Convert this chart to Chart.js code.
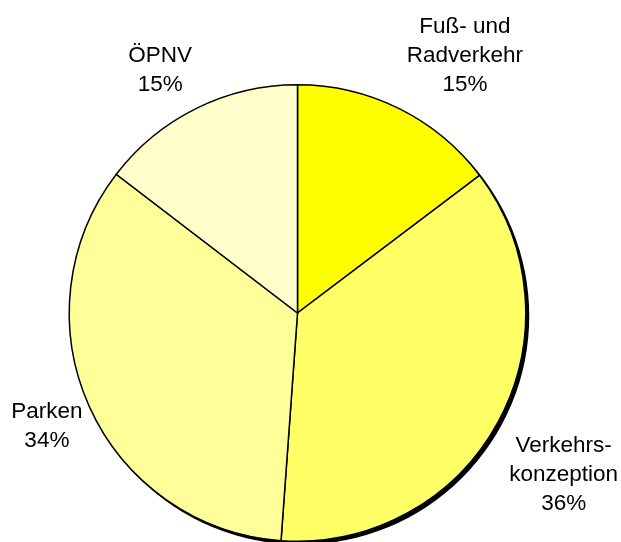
<!DOCTYPE html>
<html>
<head>
<meta charset="utf-8">
<script src="https://cdn.jsdelivr.net/npm/chart.js@4/dist/chart.umd.min.js"></script>
<style>
html,body{margin:0;padding:0;background:#fff;}
#c{display:block;}
</style>
</head>
<body>
<canvas id="c" width="621" height="542"></canvas>
<script>
const categories = [["Fuß- und", "Radverkehr"], ["Verkehrs-", "konzeption"], ["Parken"], ["ÖPNV"]];
const values = [14.7, 36.45, 34.25, 14.6];
const sliceColors = ["#FFFF00", "#FFFF66", "#FFFF99", "#FFFFCC"];
// label placement: radial distance factor and angle tweak (degrees)
const labelDist = [1.352, 1.361, 1.202, 1.228];
const labelAngleTweak = [6.4, 2.5, 0.2, -3.05];

const shadowPlugin = {
  id: 'pieShadow',
  beforeDatasetsDraw(chart) {
    const arc = chart.getDatasetMeta(0).data[0];
    if (!arc) return;
    const ctx = chart.ctx;
    ctx.save();
    ctx.beginPath();
    ctx.arc(arc.x + 3, arc.y + 3, arc.outerRadius + 0.5, 0, Math.PI * 2);
    ctx.fillStyle = '#000';
    ctx.fill();
    ctx.restore();
  }
};

const labelPlugin = {
  id: 'pieLabels',
  afterDatasetsDraw(chart) {
    const meta = chart.getDatasetMeta(0);
    const ctx = chart.ctx;
    const total = values.reduce((a, b) => a + b, 0);
    ctx.save();
    ctx.font = '22.5px "Liberation Sans", Arial, sans-serif';
    ctx.fillStyle = '#000';
    ctx.textAlign = 'center';
    ctx.textBaseline = 'middle';
    const lh = 29;
    meta.data.forEach((el, i) => {
      const mid = (el.startAngle + el.endAngle) / 2 + labelAngleTweak[i] * Math.PI / 180;
      const r = el.outerRadius * labelDist[i];
      const cx = el.x + Math.cos(mid) * r;
      const cy = el.y + Math.sin(mid) * r + 2;
      const lines = categories[i].concat([Math.round(values[i] / total * 100) + '%']);
      const y0 = cy - (lines.length - 1) * lh / 2;
      lines.forEach((t, k) => ctx.fillText(t, cx, y0 + k * lh));
    });
    ctx.restore();
  }
};

new Chart(document.getElementById('c'), {
  type: 'pie',
  data: {
    labels: categories.map(c => c.join(' ')),
    datasets: [{
      data: values,
      backgroundColor: sliceColors,
      borderColor: '#000',
      borderWidth: 1.5,
      borderJoinStyle: 'miter'
    }]
  },
  options: {
    responsive: false,
    animation: false,
    layout: { padding: { top: 84, bottom: 0, left: 68, right: 94 } },
    plugins: {
      legend: { display: false },
      tooltip: { enabled: false }
    }
  },
  plugins: [shadowPlugin, labelPlugin]
});
</script>
</body>
</html>
